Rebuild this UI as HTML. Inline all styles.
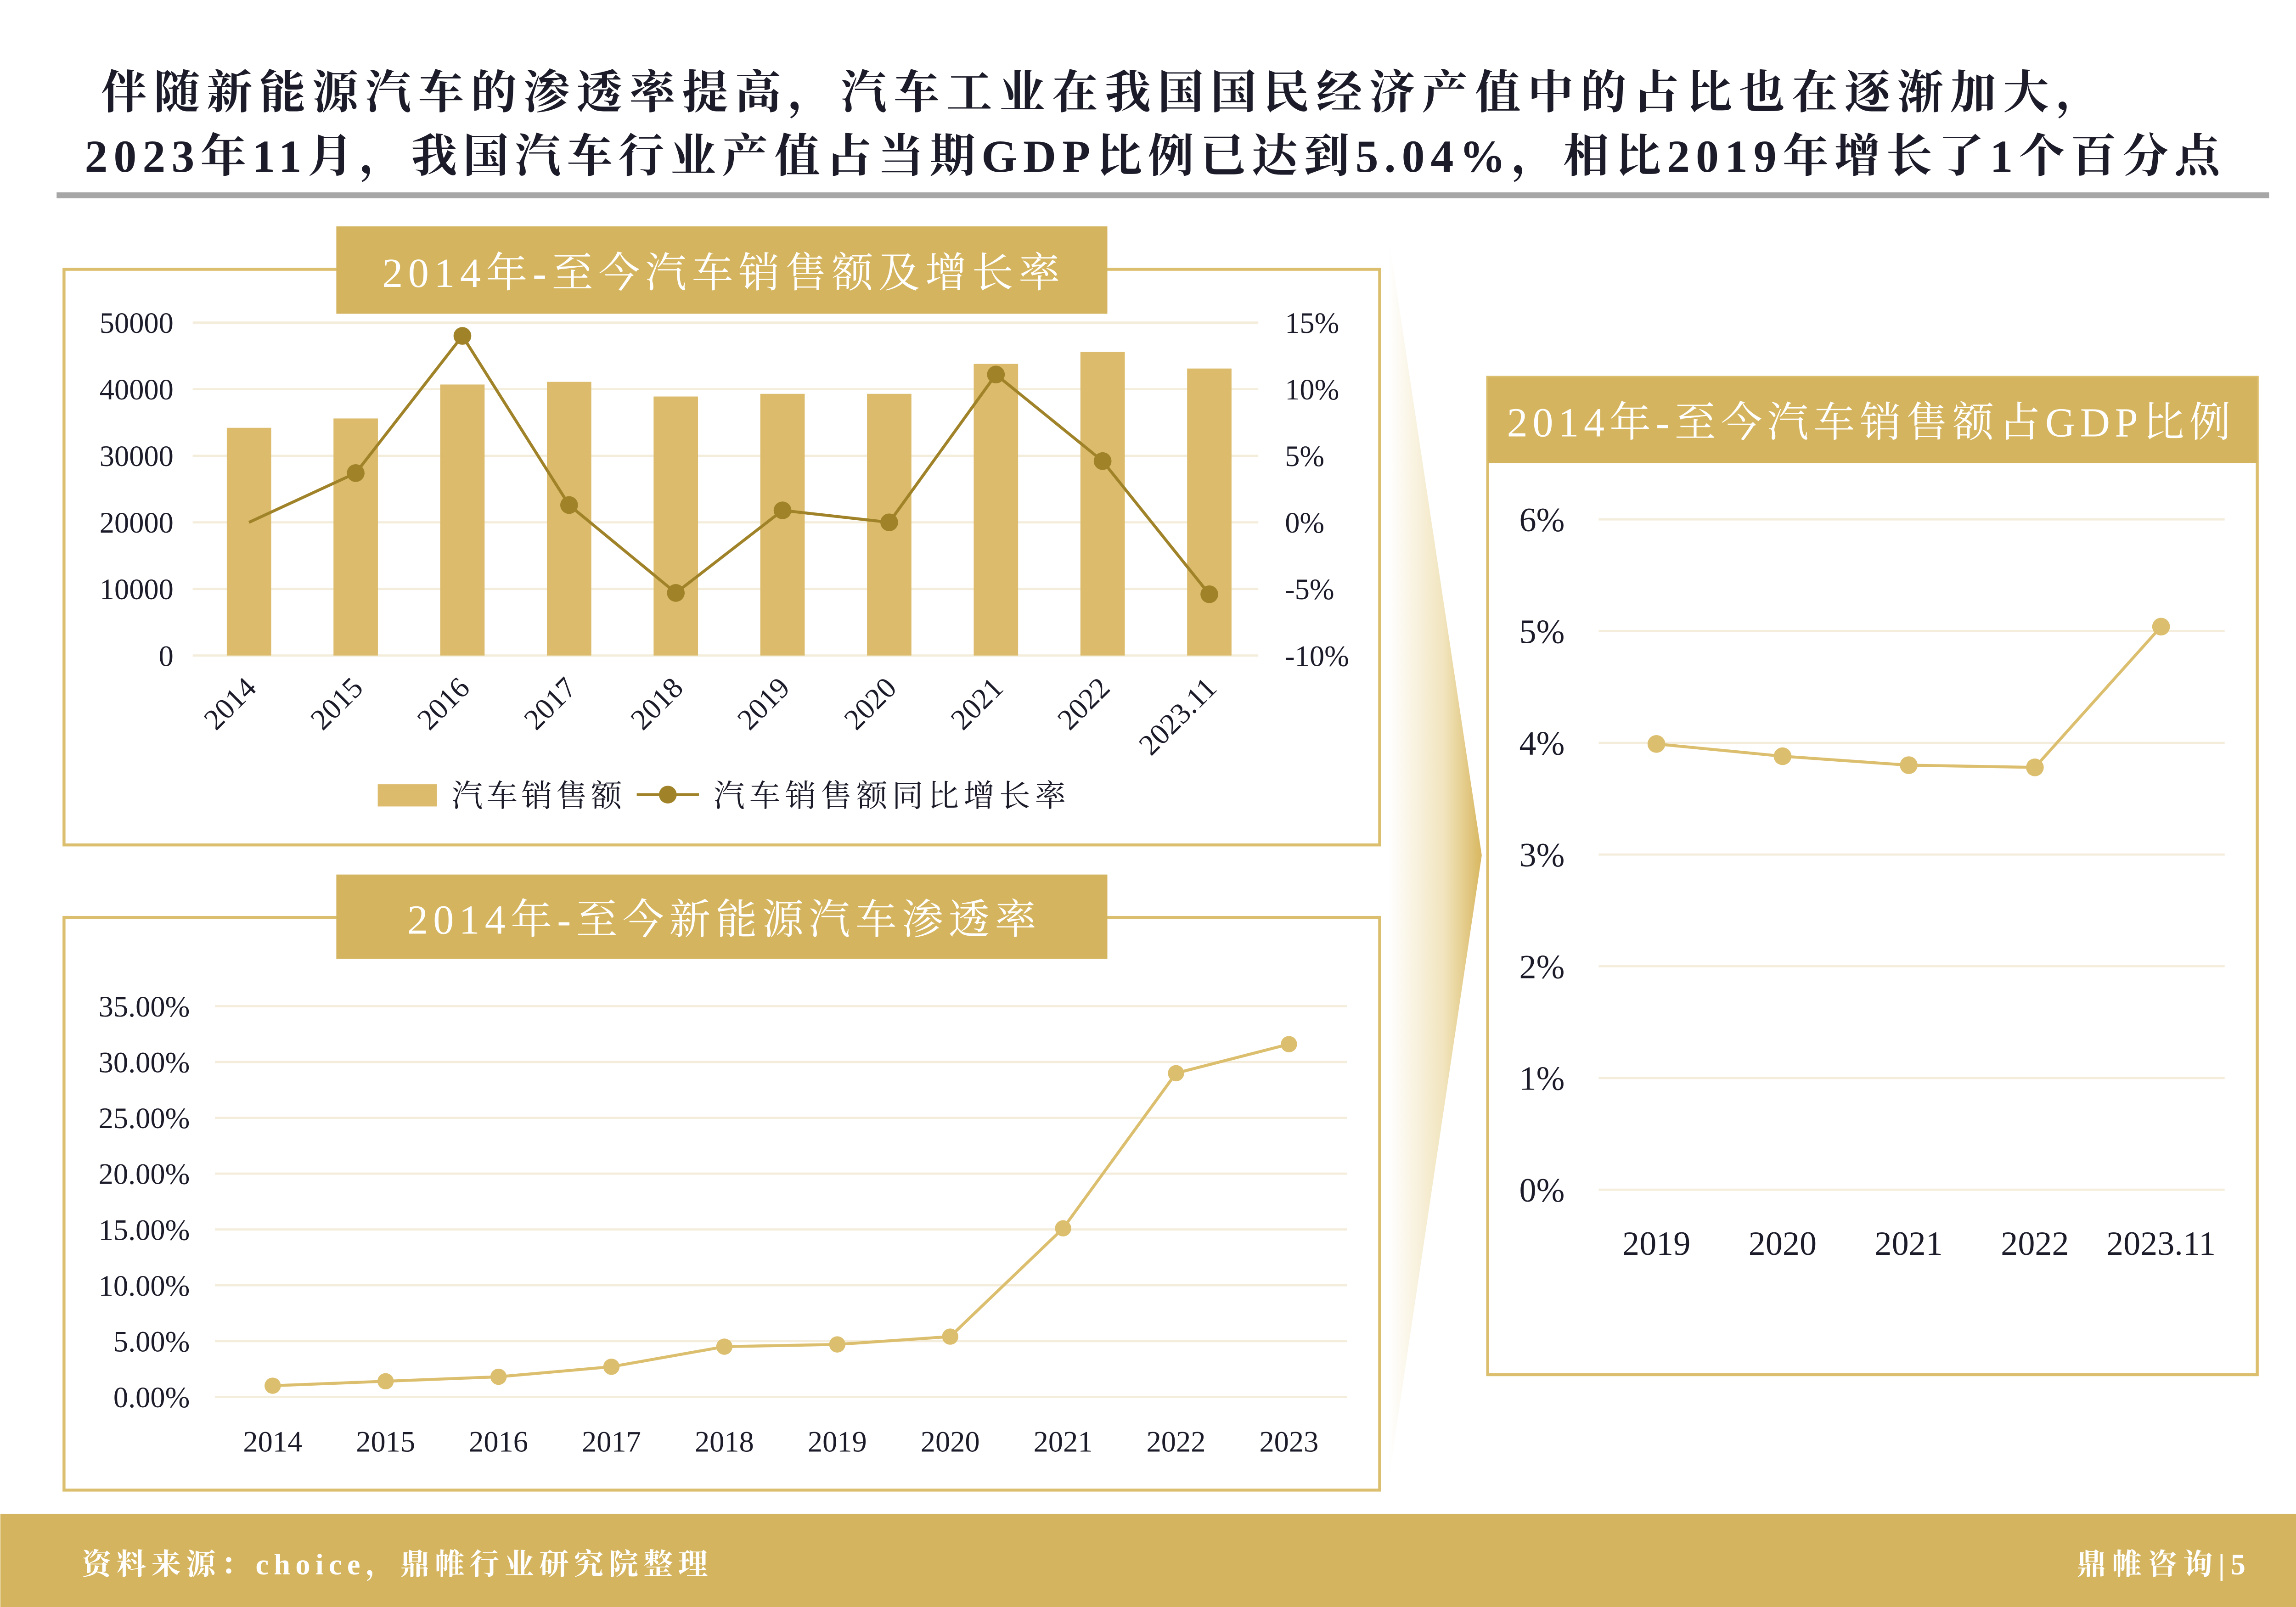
<!DOCTYPE html>
<html><head><meta charset="utf-8">
<style>
html,body{margin:0;padding:0;background:#fff;}
svg{display:block;font-family:"Liberation Serif","Noto Serif CJK SC",serif;}
</style></head>
<body>
<svg id="main" width="5055" height="3500" viewBox="0 0 1568 1086" xmlns="http://www.w3.org/2000/svg">
<defs>
<linearGradient id="arrowGrad" x1="0" y1="0" x2="1" y2="0">
<stop offset="0" stop-color="#ffffff"/><stop offset="0.6" stop-color="#f1e4bd"/><stop offset="1" stop-color="#d8b760"/>
</linearGradient>
</defs>
<rect width="1568" height="1086" fill="#fff"/>
<g fill="#1b1b2a" font-weight="bold" font-size="31">
<text x="68" y="73" textLength="1352" lengthAdjust="spacing">伴随新能源汽车的渗透率提高，汽车工业在我国国民经济产值中的占比也在逐渐加大，</text>
<text x="57" y="116" textLength="1443" lengthAdjust="spacing">2023年11月，我国汽车行业产值占当期GDP比例已达到5.04%，相比2019年增长了1个百分点</text>
</g>
<rect x="38" y="130" width="1495" height="4" fill="#a6a6a6"/>

<polygon points="938,160 1001,578 938,1000" fill="url(#arrowGrad)"/>

<g id="c1">
<rect x="43" y="182" width="889" height="389" fill="none" stroke="#dcbf6e" stroke-width="2"/>
<rect x="227" y="153" width="521" height="59" fill="#d4b45e"/>
<text x="258" y="194" font-size="28" fill="#fff" textLength="458" lengthAdjust="spacing">2014年-至今汽车销售额及增长率</text>
</g>
<g id="c2">
<rect x="43" y="620" width="889" height="387" fill="none" stroke="#dcbf6e" stroke-width="2"/>
<rect x="227" y="591" width="521" height="57" fill="#d4b45e"/>
<text x="275" y="631" font-size="28" fill="#fff" textLength="425" lengthAdjust="spacing">2014年-至今新能源汽车渗透率</text>
</g>
<g id="c3">
<rect x="1005" y="255" width="520" height="674" fill="none" stroke="#dcbf6e" stroke-width="2"/>
<rect x="1005" y="255" width="520" height="58" fill="#d4b45e"/>
<text x="1018" y="295" font-size="28" fill="#fff" textLength="489" lengthAdjust="spacing">2014年-至今汽车销售额占GDP比例</text>
</g>

<rect x="0" y="1023" width="1568" height="63" fill="#d4b45e"/>
<text x="55" y="1064" font-size="20" font-weight="bold" fill="#fff" textLength="423" lengthAdjust="spacing">资料来源：choice，鼎帷行业研究院整理</text>
<text x="1403" y="1064" font-size="20" font-weight="bold" fill="#fff" textLength="114" lengthAdjust="spacing">鼎帷咨询|5</text>
</svg>
<script>
const salesCats=["2014","2015","2016","2017","2018","2019","2020","2021","2022","2023.11"];
const salesValues=[34200,35600,40700,41100,38900,39300,39300,43800,45600,43100];
const growthValues=[0,3.7,14,1.3,-5.3,0.9,0,11.1,4.6,-5.4];
const salesTicks=[0,10000,20000,30000,40000,50000];
const growthTicks=[-10,-5,0,5,10,15];
const nevCats=["2014","2015","2016","2017","2018","2019","2020","2021","2022","2023"];
const nevValues=[1.0,1.4,1.8,2.7,4.5,4.7,5.4,15.1,29.0,31.6];
const nevTicks=[0,5,10,15,20,25,30,35];
const gdpCats=["2019","2020","2021","2022","2023.11"];
const gdpValues=[3.99,3.88,3.80,3.78,5.04];
const gdpTicks=[0,1,2,3,4,5,6];

const NS="http://www.w3.org/2000/svg";
function mk(parent,tag,attrs,text){const e=document.createElementNS(NS,tag);for(const k in attrs)e.setAttribute(k,attrs[k]);if(text!==undefined)e.textContent=text;parent.appendChild(e);return e;}
const dark="#1b1b2a";

(function(){
const g=document.getElementById('c1');
const yL=v=>443-(v/50000)*225;
const yR=v=>443-((v+10)/25)*225;
const x=i=>168+i*72.1;
salesTicks.forEach(t=>{
 const l=mk(g,'line',{x1:130,x2:850,y1:yL(t),y2:yL(t),stroke:"#f4eddc","stroke-width":1.5});
 
 
 const tx=mk(g,'text',{x:117,y:yL(t)+7,"font-size":20,fill:dark,"text-anchor":"end"},String(t));
 
 
});
growthTicks.forEach(t=>{
 const tx=mk(g,'text',{x:868,y:yR(t)+7,"font-size":20,fill:dark},t+"%");
 
 
});
salesValues.forEach((v,i)=>{
 const r=mk(g,'rect',{x:x(i)-15,y:yL(v),width:30,height:443-yL(v),fill:"#dcbc6c"});
 
 
});
const pts=growthValues.map((v,i)=>x(i)+","+yR(v)).join(" ");
const pl=mk(g,'polyline',{points:pts,fill:"none",stroke:"#a08329","stroke-width":2});


growthValues.forEach((v,i)=>{
 if(i===0)return;
 const c=mk(g,'circle',{cx:x(i),cy:yR(v),r:6,fill:"#a08329"});
 
 
});
salesCats.forEach((c,i)=>{
 const tx=mk(g,'text',{x:x(i)+6,y:466,"font-size":20,fill:dark,"text-anchor":"end",transform:`rotate(-45 ${x(i)+6} 466)`},c);
 
 
});
const lr=mk(g,'rect',{x:255,y:530,width:40,height:15,fill:"#dcbc6c"});


const lt=mk(g,'text',{x:305,y:545,"font-size":21,fill:dark,textLength:115,lengthAdjust:"spacing"},"汽车销售额");


const ll=mk(g,'line',{x1:430,x2:472,y1:537,y2:537,stroke:"#a08329","stroke-width":2});


const lc=mk(g,'circle',{cx:451,cy:537,r:6,fill:"#a08329"});


const lt2=mk(g,'text',{x:482,y:545,"font-size":21,fill:dark,textLength:238,lengthAdjust:"spacing"},"汽车销售额同比增长率");


})();

(function(){
const g=document.getElementById('c2');
const y=v=>944-v*7.543;
const x=i=>184+i*76.3;
nevTicks.forEach(t=>{
 const l=mk(g,'line',{x1:145,x2:910,y1:y(t),y2:y(t),stroke:"#f4eddc","stroke-width":1.5});
 
 
 const tx=mk(g,'text',{x:128,y:y(t)+7,"font-size":20,fill:dark,"text-anchor":"end"},t.toFixed(2)+"%");
 
 
});
const pl=mk(g,'polyline',{points:nevValues.map((v,i)=>x(i)+","+y(v)).join(" "),fill:"none",stroke:"#dcbf6e","stroke-width":2});


nevValues.forEach((v,i)=>{
 const c=mk(g,'circle',{cx:x(i),cy:y(v),r:5.5,fill:"#dcbf6e"});
 
 
});
nevCats.forEach((c,i)=>{
 const tx=mk(g,'text',{x:x(i),y:981,"font-size":20,fill:dark,"text-anchor":"middle"},c);
 
 
});
})();

(function(){
const g=document.getElementById('c3');
const y=v=>804-v*75.5;
const x=i=>1119+i*85.25;
gdpTicks.forEach(t=>{
 const l=mk(g,'line',{x1:1080,x2:1503,y1:y(t),y2:y(t),stroke:"#f4eddc","stroke-width":1.5});
 
 
 const tx=mk(g,'text',{x:1057,y:y(t)+8,"font-size":23,fill:dark,"text-anchor":"end"},t+"%");
 
 
});
const pl=mk(g,'polyline',{points:gdpValues.map((v,i)=>x(i)+","+y(v)).join(" "),fill:"none",stroke:"#dcbf6e","stroke-width":2});


gdpValues.forEach((v,i)=>{
 const c=mk(g,'circle',{cx:x(i),cy:y(v),r:6,fill:"#dcbf6e"});
 
 
});
gdpCats.forEach((c,i)=>{
 const tx=mk(g,'text',{x:x(i),y:848,"font-size":23,fill:dark,"text-anchor":"middle"},c);
 
 
});
})();
</script>
</body></html>
